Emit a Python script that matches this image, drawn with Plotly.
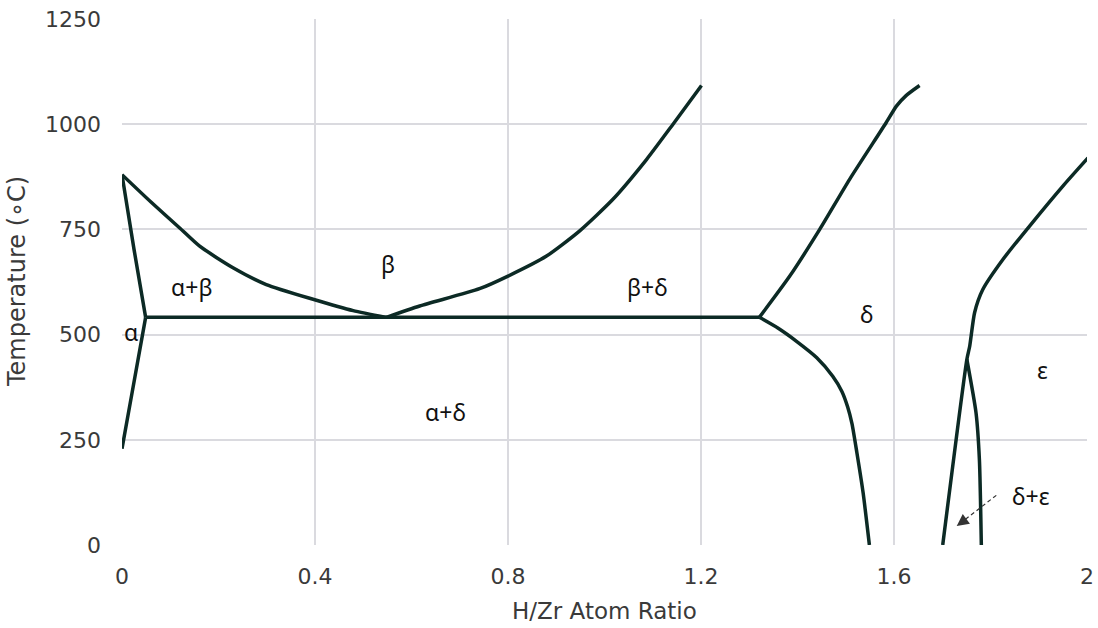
import plotly.graph_objects as go

# ---- data (H/Zr ratio, temperature °C) ----
alpha_upper_x = [0.0, 0.025, 0.049]
alpha_upper_y = [880, 702, 541]
alpha_lower_x = [0.049, 0.019, 0.0]
alpha_lower_y = [541, 350, 229]

ab_x = [0.0, 0.06, 0.119, 0.161, 0.230, 0.299, 0.396, 0.479, 0.548]
ab_y = [880, 815, 754, 710, 659, 619, 584, 557, 541]

bd_x = [0.548, 0.617, 0.741, 0.800, 0.879, 0.948, 1.017, 1.087, 1.142, 1.201]
bd_y = [541, 568, 609, 639, 686, 746, 821, 916, 1000, 1092]

eut_x = [0.049, 1.321]
eut_y = [541, 541]

d_upper_x = [1.321, 1.384, 1.446, 1.508, 1.584, 1.605, 1.625, 1.653]
d_upper_y = [541, 639, 750, 869, 1004, 1043, 1068, 1092]

d_lower_x = [1.321, 1.360, 1.398, 1.440, 1.473, 1.492, 1.504, 1.513, 1.523, 1.536, 1.549]
d_lower_y = [541, 515, 484, 445, 401, 365, 328, 288, 220, 124, 0]

eps_x = [2.002, 1.950, 1.881, 1.826, 1.784, 1.767, 1.757, 1.751, 1.701]
eps_y = [920, 853, 758, 679, 607, 552, 473, 441, 0]

de_x = [1.751, 1.770, 1.777, 1.781]
de_y = [441, 314, 203, 0]

labels = ["α", "α+β", "β", "β+δ", "δ", "ε", "α+δ", "δ+ε"]
label_x = [0.018, 0.146, 0.551, 1.090, 1.545, 1.908, 0.671, 1.883]
label_y = [507, 612, 667, 612, 548, 417, 317, 117]

arrow_tail = (1.812, 118)
arrow_head = (1.730, 45)

x_ticks = [0, 0.4, 0.8, 1.2, 1.6, 2]
x_tick_text = ["0", "0.4", "0.8", "1.2", "1.6", "2"]
y_ticks = [0, 250, 500, 750, 1000, 1250]

LINE = "#0c2a25"
GRID = "#dadadf"
AXFONT = "DejaVu Sans"

fig = go.Figure()
curves = [
    (alpha_upper_x, alpha_upper_y), (alpha_lower_x, alpha_lower_y),
    (ab_x, ab_y), (bd_x, bd_y), (eut_x, eut_y),
    (d_upper_x, d_upper_y), (d_lower_x, d_lower_y),
    (eps_x, eps_y), (de_x, de_y),
]
for cx, cy in curves:
    fig.add_trace(go.Scatter(x=cx, y=cy, mode="lines",
                             line=dict(color=LINE, width=3.5, shape="spline", smoothing=0.6),
                             hoverinfo="skip", showlegend=False))

# dashed arrow shaft
fig.add_trace(go.Scatter(x=[arrow_tail[0], arrow_head[0] + 0.010],
                         y=[arrow_tail[1], arrow_head[1] + 9],
                         mode="lines", line=dict(color="#333333", width=1.2, dash="4px,3px"),
                         hoverinfo="skip", showlegend=False))

annotations = []
for t, lx, ly in zip(labels, label_x, label_y):
    annotations.append(dict(x=lx, y=ly, text=t, showarrow=False,
                            font=dict(family="Noto Sans", size=23, color="#111111")))
# arrow head
annotations.append(dict(x=arrow_head[0], y=arrow_head[1], ax=arrow_head[0] + 0.014, ay=arrow_head[1] + 12,
                        axref="x", ayref="y", text="", showarrow=True, arrowhead=2,
                        arrowsize=2.4, arrowwidth=1, arrowcolor="#333333"))
# axis titles
annotations.append(dict(xref="paper", yref="paper", x=0.5, y=0, yshift=-66, xanchor="center",
                        yanchor="middle", text="H/Zr Atom Ratio", showarrow=False,
                        font=dict(family=AXFONT, size=23, color="#3a3a3a")))
annotations.append(dict(xref="paper", yref="paper", x=0, y=0.5, xshift=-105, xanchor="center",
                        yanchor="middle", text="Temperature (∘C)", textangle=-90, showarrow=False,
                        font=dict(family=AXFONT, size=24, color="#3a3a3a")))

fig.update_layout(
    width=1098, height=628,
    margin=dict(l=122, r=11, t=19, b=83),
    paper_bgcolor="white", plot_bgcolor="white",
    annotations=annotations,
    font=dict(family=AXFONT, size=22, color="#3a3a3a"),
)
fig.update_xaxes(range=[0, 2], tickvals=x_ticks, ticktext=x_tick_text,
                 showgrid=True, gridcolor=GRID, gridwidth=2, zeroline=False,
                 showline=False, ticks="", ticklabelstandoff=16, automargin=False)
fig.update_yaxes(range=[0, 1250], tickvals=y_ticks,
                 showgrid=True, gridcolor=GRID, gridwidth=2, zeroline=False,
                 showline=False, ticks="", ticklabelstandoff=20, automargin=False)

fig.write_html("out.html")
